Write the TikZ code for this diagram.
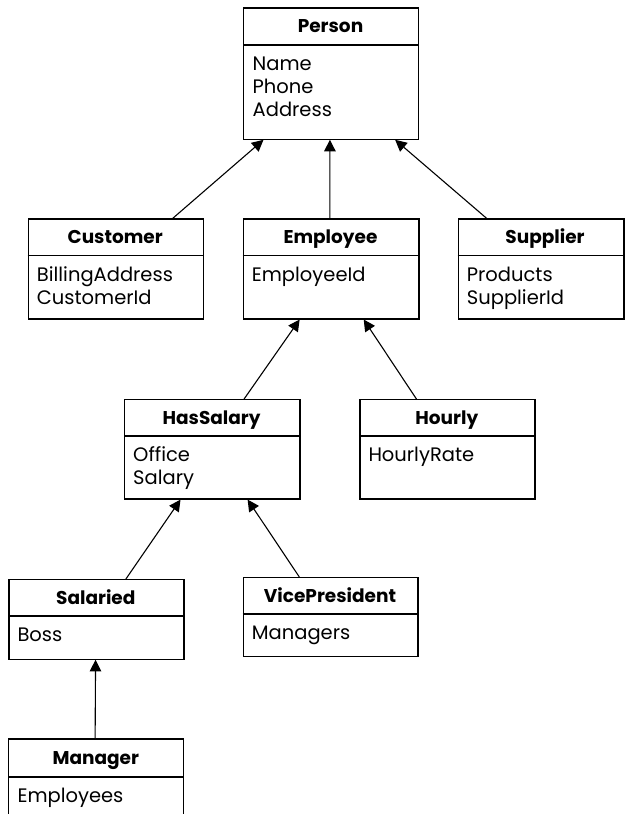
\documentclass[tikz,border=0pt]{standalone}
\usepackage{fontspec}
\setmainfont{Poppins}
\usetikzlibrary{arrows.meta,calc}
\tikzset{
  umlbox/.style={draw=black, line width=1.3pt, rectangle, inner sep=0pt, anchor=north west},
  openbox/.style={rectangle, inner sep=0pt, anchor=north west},
  divider/.style={line width=1.3pt},
  ttl/.style={anchor=base, inner sep=0pt, font=\fontsize{18.5}{23}\selectfont\bfseries},
  attr/.style={anchor=base west, inner sep=0pt, font=\fontsize{19.5}{23}\selectfont},
  inh/.style={line width=1.1pt, -{Triangle[length=11.5pt,width=11.5pt]}}
}
\begin{document}
\begin{tikzpicture}[x=1pt,y=-1pt]
\useasboundingbox (0,0) rectangle (624,814);
\fill[white] (0,0) rectangle (624,814);

% Person
\node[umlbox, minimum width=175pt, minimum height=131.2pt] (person) at (243,7.3) {};
\draw[divider] (person.west |- 0,45) -- (person.east |- 0,45);
\node[ttl] (person-t) at (330.5,32.3) {Person};
\node[attr] (person-a1) at (252.5,70) {Name};
\node[attr] (person-a2) at (252.5,93.3) {Phone};
\node[attr] (person-a3) at (252.5,116.6) {Address};

% Customer
\node[umlbox, minimum width=175pt, minimum height=100pt] (customer) at (27.7,218.3) {};
\draw[divider] (customer.west |- 0,255.7) -- (customer.east |- 0,255.7);
\node[ttl] (customer-t) at (115.2,243.3) {Customer};
\node[attr] (customer-a1) at (36.7,281) {BillingAddress};
\node[attr] (customer-a2) at (36.7,304.3) {CustomerId};

% Employee
\node[umlbox, minimum width=175.6pt, minimum height=100pt] (employee) at (242.7,218.2) {};
\draw[divider] (employee.west |- 0,255.8) -- (employee.east |- 0,255.8);
\node[ttl] (employee-t) at (330.5,243.2) {Employee};
\node[attr] (employee-a1) at (251.7,281) {EmployeeId};

% Supplier
\node[umlbox, minimum width=165.6pt, minimum height=100pt] (supplier) at (457.7,218.3) {};
\draw[divider] (supplier.west |- 0,255.7) -- (supplier.east |- 0,255.7);
\node[ttl] (supplier-t) at (545,243.3) {Supplier};
\node[attr] (supplier-a1) at (466.7,281) {Products};
\node[attr] (supplier-a2) at (466.7,304.3) {SupplierId};

% HasSalary
\node[umlbox, minimum width=175.3pt, minimum height=99.3pt] (hassalary) at (124,399) {};
\draw[divider] (hassalary.west |- 0,436) -- (hassalary.east |- 0,436);
\node[ttl] (hassalary-t) at (211.6,424) {HasSalary};
\node[attr] (hassalary-a1) at (133,461.3) {Office};
\node[attr] (hassalary-a2) at (133,484.6) {Salary};

% Hourly
\node[umlbox, minimum width=175pt, minimum height=99.3pt] (hourly) at (359.3,399) {};
\draw[divider] (hourly.west |- 0,436) -- (hourly.east |- 0,436);
\node[ttl] (hourly-t) at (446.8,424) {Hourly};
\node[attr] (hourly-a1) at (368.3,461.3) {HourlyRate};

% Salaried
\node[umlbox, minimum width=175pt, minimum height=79.5pt] (salaried) at (8.3,579) {};
\draw[divider] (salaried.west |- 0,616) -- (salaried.east |- 0,616);
\node[ttl] (salaried-t) at (95.8,604) {Salaried};
\node[attr] (salaried-a1) at (17.3,641.3) {Boss};

% VicePresident
\node[umlbox, minimum width=174.6pt, minimum height=79pt] (vp) at (242.7,577) {};
\draw[divider] (vp.west |- 0,614) -- (vp.east |- 0,614);
\node[ttl] (vp-t) at (330,602) {VicePresident};
\node[attr] (vp-a1) at (251.7,639.3) {Managers};

% Manager (open at the bottom)
\node[openbox, minimum width=175pt, minimum height=76pt] (manager) at (8.3,739) {};
\draw[divider] (manager.south west) -- (manager.north west) -- (manager.north east) -- (manager.south east);
\draw[divider] (manager.west |- 0,777) -- (manager.east |- 0,777);
\node[ttl] (manager-t) at (95.8,764) {Manager};
\node[attr] (manager-a1) at (17.3,802) {Employees};

% Inheritance arrows
\draw[inh] ($(customer.north west)!0.823!(customer.north east)$) -- ($(person.south west)!0.116!(person.south east)$);
\draw[inh] ($(employee.north west)!0.493!(employee.north east)$) -- ($(person.south west)!0.493!(person.south east)$);
\draw[inh] ($(supplier.north west)!0.173!(supplier.north east)$) -- ($(person.south west)!0.863!(person.south east)$);
\draw[inh] ($(hassalary.north west)!0.68!(hassalary.north east)$) -- ($(employee.south west)!0.322!(employee.south east)$);
\draw[inh] ($(hourly.north west)!0.324!(hourly.north east)$) -- ($(employee.south west)!0.684!(employee.south east)$);
\draw[inh] ($(salaried.north west)!0.667!(salaried.north east)$) -- ($(hassalary.south west)!0.32!(hassalary.south east)$);
\draw[inh] ($(vp.north west)!0.322!(vp.north east)$) -- ($(hassalary.south west)!0.70!(hassalary.south east)$);
\draw[inh] ($(manager.north west)!0.495!(manager.north east)$) -- ($(salaried.south west)!0.495!(salaried.south east)$);
\end{tikzpicture}
\end{document}
